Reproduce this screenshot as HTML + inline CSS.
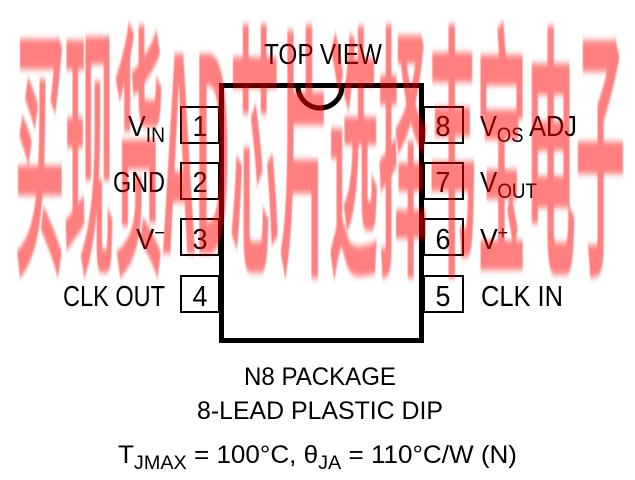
<!DOCTYPE html>
<html><head><meta charset="utf-8"><style>
html,body{margin:0;padding:0;background:#fff;}
svg{display:block;}
text{font-family:"Liberation Sans",sans-serif;fill:#000;}
</style></head><body>
<svg width="635" height="480" viewBox="0 0 635 480" xmlns="http://www.w3.org/2000/svg">
<rect width="635" height="480" fill="#fff"/>
<rect x="221.5" y="85.5" width="200" height="255" fill="none" stroke="#000" stroke-width="5"/>
<path d="M298 86 A22 22 0 0 0 342 86" fill="none" stroke="#000" stroke-width="5"/>
<g fill="none" stroke="#000" stroke-width="2">
<rect x="181" y="107" width="38" height="36"/>
<rect x="181" y="163" width="38" height="36"/>
<rect x="181" y="219" width="38" height="36"/>
<rect x="181" y="276" width="38" height="36"/>
<rect x="424" y="107" width="39" height="36"/>
<rect x="424" y="163" width="39" height="36"/>
<rect x="424" y="219" width="39" height="36"/>
<rect x="424" y="276" width="39" height="36"/>
</g>
<g font-size="29" text-anchor="middle">
<text x="200" y="136" textLength="15" lengthAdjust="spacingAndGlyphs">1</text>
<text x="200" y="192" textLength="15" lengthAdjust="spacingAndGlyphs">2</text>
<text x="200" y="249" textLength="15" lengthAdjust="spacingAndGlyphs">3</text>
<text x="200" y="306" textLength="15" lengthAdjust="spacingAndGlyphs">4</text>
<text x="443" y="136" textLength="15" lengthAdjust="spacingAndGlyphs">8</text>
<text x="443" y="192" textLength="15" lengthAdjust="spacingAndGlyphs">7</text>
<text x="443" y="249" textLength="15" lengthAdjust="spacingAndGlyphs">6</text>
<text x="443" y="306" textLength="15" lengthAdjust="spacingAndGlyphs">5</text>
</g>
<g font-size="29">
<text x="264" y="64" textLength="118" lengthAdjust="spacingAndGlyphs">TOP VIEW</text>
<text x="128" y="136" textLength="37" lengthAdjust="spacingAndGlyphs">V<tspan font-size="21" dy="6">IN</tspan></text>
<text x="113" y="192" textLength="52" lengthAdjust="spacingAndGlyphs">GND</text>
<text x="136" y="249" textLength="29" lengthAdjust="spacingAndGlyphs">V<tspan font-size="19" dy="-10">−</tspan></text>
<text x="63" y="306" textLength="102" lengthAdjust="spacingAndGlyphs">CLK OUT</text>
<text x="480" y="136" textLength="97" lengthAdjust="spacingAndGlyphs">V<tspan font-size="21" dy="6">OS</tspan><tspan dy="-6"> ADJ</tspan></text>
<text x="480" y="192" textLength="57" lengthAdjust="spacingAndGlyphs">V<tspan font-size="21" dy="6">OUT</tspan></text>
<text x="480" y="249" textLength="28" lengthAdjust="spacingAndGlyphs">V<tspan font-size="19" dy="-10">+</tspan></text>
<text x="481" y="306" textLength="82" lengthAdjust="spacingAndGlyphs">CLK IN</text>
</g>
<g font-size="25">
<text x="244" y="385" textLength="152" lengthAdjust="spacingAndGlyphs">N8 PACKAGE</text>
<text x="197" y="419" textLength="246" lengthAdjust="spacingAndGlyphs">8-LEAD PLASTIC DIP</text>
<text x="118" y="463" textLength="399" lengthAdjust="spacingAndGlyphs">T<tspan font-size="19" dy="6">JMAX</tspan><tspan dy="-6"> = 100°C, θ</tspan><tspan font-size="19" dy="6">JA</tspan><tspan dy="-6"> = 110°C/W (N)</tspan></text>
</g>
<g transform="scale(1,5.4)" style="filter:blur(0.6px)">
<text x="15" y="47" font-size="50" textLength="610" lengthAdjust="spacingAndGlyphs" style="font-family:'Noto Sans CJK SC',sans-serif;font-weight:bold;fill:rgba(255,0,0,0.5)">买现货AD芯片选择韦宝电子</text>
</g>
</svg>
</body></html>
